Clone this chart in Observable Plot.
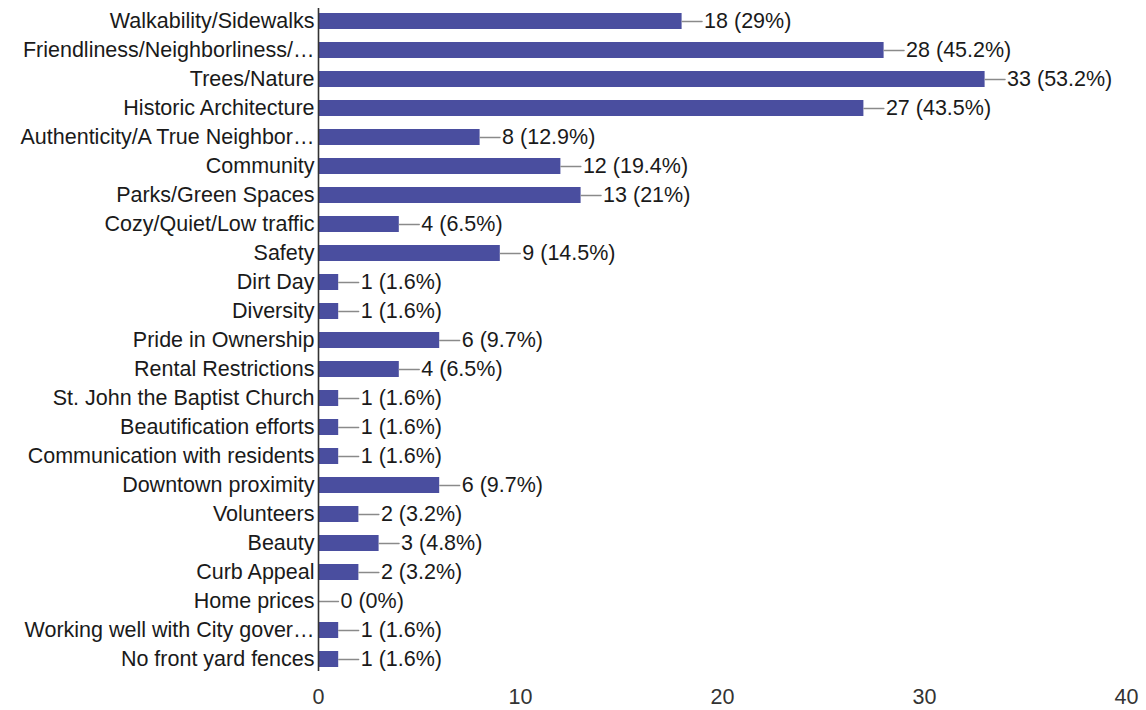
<!DOCTYPE html>
<html>
<head>
<meta charset="utf-8">
<script src="https://cdn.jsdelivr.net/npm/d3@7"></script>
<script src="https://cdn.jsdelivr.net/npm/@observablehq/plot@0.6"></script>
<style>
  html, body { margin: 0; padding: 0; background: #fff; }
  #chart svg { font-family: "Liberation Sans", Arial, sans-serif; }
</style>
</head>
<body>
<div id="chart"></div>
<script>
const categories = [
  "Walkability/Sidewalks",
  "Friendliness/Neighborliness/…",
  "Trees/Nature",
  "Historic Architecture",
  "Authenticity/A True Neighbor…",
  "Community",
  "Parks/Green Spaces",
  "Cozy/Quiet/Low traffic",
  "Safety",
  "Dirt Day",
  "Diversity",
  "Pride in Ownership",
  "Rental Restrictions",
  "St. John the Baptist Church",
  "Beautification efforts",
  "Communication with residents",
  "Downtown proximity",
  "Volunteers",
  "Beauty",
  "Curb Appeal",
  "Home prices",
  "Working well with City gover…",
  "No front yard fences"
];
const counts = [18, 28, 33, 27, 8, 12, 13, 4, 9, 1, 1, 6, 4, 1, 1, 1, 6, 2, 3, 2, 0, 1, 1];
const percents = ["29", "45.2", "53.2", "43.5", "12.9", "19.4", "21", "6.5", "14.5", "1.6", "1.6", "9.7", "6.5", "1.6", "1.6", "1.6", "9.7", "3.2", "4.8", "3.2", "0", "1.6", "1.6"];
const xTicks = [0, 10, 20, 30, 40];

const data = categories.map((c, i) => ({label: c, value: counts[i], pct: percents[i]}));

const leader = {
  draw(context, l) {
    context.moveTo(0, 0);
    context.lineTo(0, -l);
  }
};

const M = {marginTop: 8, marginRight: 20, marginBottom: 39, marginLeft: 318};
const FS = 21.5;

const chart = Plot.plot({
  width: 1146,
  height: 710,
  ...M,
  style: {fontSize: FS + "px", fontFamily: "'Liberation Sans', Arial, sans-serif", color: "#1a1a1a", background: "#fff"},
  x: {domain: [0, 40], ticks: xTicks, label: null, axis: null},
  y: {domain: categories, label: null, paddingInner: 0.45, paddingOuter: 0.15, axis: null},
  marks: [
    Plot.barX(data, {x: "value", y: "label", fill: "#4a4e9f"}),
    Plot.vector(data, {x: "value", y: "label", rotate: 90, length: 20, anchor: "start", shape: leader, stroke: "#8a8a8a", strokeWidth: 1.3}),
    Plot.text(data, {x: "value", y: "label", text: d => `${d.value} (${d.pct}%)`, textAnchor: "start", dx: 22, fontSize: FS, fill: "#1a1a1a"}),
    Plot.axisY({...M, tickSize: 0, tickPadding: 4, fontSize: FS, fill: "#1a1a1a"}),
    Plot.axisX({...M, ticks: xTicks, tickSize: 0, tickPadding: 17, fontSize: FS, fill: "#333", tickFormat: d => d}),
    Plot.ruleX([0], {stroke: "#333", strokeWidth: 1.6})
  ]
});
document.getElementById("chart").appendChild(chart);
</script>
</body>
</html>
